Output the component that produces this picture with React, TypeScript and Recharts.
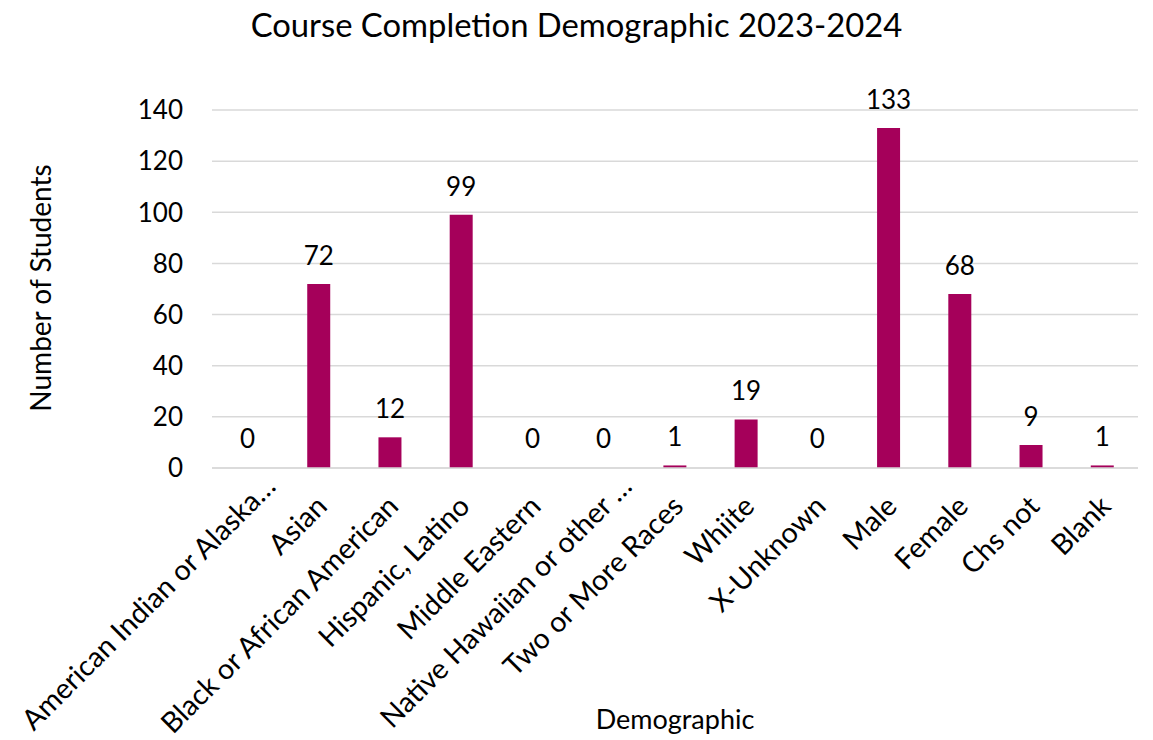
import React from 'react';
import { BarChart, Bar, XAxis, YAxis, CartesianGrid, LabelList, Label, Rectangle } from 'recharts';

const categories = [
  'American Indian or Alaska…',
  'Asian',
  'Black or African American',
  'Hispanic, Latino',
  'Middle Eastern',
  'Native Hawaiian or other …',
  'Two or More Races',
  'Whiite',
  'X-Unknown',
  'Male',
  'Female',
  'Chs not',
  'Blank',
];
const students = [0, 72, 12, 99, 0, 0, 1, 19, 0, 133, 68, 9, 1];
const yTicks = [0, 20, 40, 60, 80, 100, 120, 140];

const data = categories.map((c, i) => ({ name: c, value: students[i] }));

const FONT = 'Lato, "Open Sans", sans-serif';
const BAR = '#A5005A';

const CatTick = (props: any) => {
  const { x, y, payload } = props;
  const truncated = String(payload.value).endsWith('…');
  return (
    <g transform={`translate(${x + 10},${y + 40}) rotate(-45)`}>
      <text x={0} y={0} dx={truncated ? 28 : 0} textAnchor="end" fontSize={28.5} fontFamily={FONT} fill="#000">
        {payload.value}
      </text>
    </g>
  );
};

const BarShape = (props: any) => {
  const { value } = props;
  const v = Array.isArray(value) ? value[1] - value[0] : value;
  if (!v) return <g />;
  return <Rectangle {...props} />;
};

const ValueLabel = (props: any) => {
  const { x, y, width, value } = props;
  return (
    <text
      x={Number(x) + Number(width) / 2}
      y={Number(y) - 19}
      textAnchor="middle"
      fontSize={26}
      fontFamily={FONT}
      fill="#000"
    >
      {value}
    </text>
  );
};

export default function App() {
  return (
    <div style={{ position: 'absolute', left: 0, top: 0, width: 1153, height: 740, background: '#fff' }}>
      <div
        style={{
          position: 'absolute',
          left: 0,
          top: 5,
          width: 1153,
          textAlign: 'center',
          fontFamily: FONT,
          fontSize: 32.8,
          color: '#000',
        }}
      >
        Course Completion Demographic 2023-2024
      </div>
      <BarChart width={1153} height={740} data={data} margin={{ top: 110, right: 15, left: 0, bottom: 0 }}>
        <CartesianGrid vertical={false} stroke="#D9D9D9" strokeWidth={1.5} />
        <XAxis
          dataKey="name"
          interval={0}
          height={272}
          tickSize={0}
          tickMargin={0}
          axisLine={{ stroke: '#D9D9D9', strokeWidth: 1.5 }}
          tickLine={false}
          tick={<CatTick />}
        >
          <Label
            content={(p: any) => {
              const vb = p.viewBox;
              return (
                <text
                  x={vb.x + vb.width / 2}
                  y={vb.y + vb.height - 11}
                  textAnchor="middle"
                  fontSize={27}
                  fontFamily={FONT}
                  fill="#000"
                >
                  Demographic
                </text>
              );
            }}
          />
        </XAxis>
        <YAxis
          width={212}
          domain={[0, 140]}
          ticks={yTicks}
          axisLine={false}
          tickLine={false}
          tickSize={0}
          tickMargin={29}
          tick={{ fontSize: 26, fontFamily: FONT, fill: '#000' }}
        >
          <Label
            content={(p: any) => {
              const vb = p.viewBox;
              const cy = vb.y + vb.height / 2 - 1;
              return (
                <text
                  x={51}
                  y={cy}
                  transform={`rotate(-90, 51, ${cy})`}
                  textAnchor="middle"
                  fontSize={28}
                  fontFamily={FONT}
                  fill="#000"
                >
                  Number of Students
                </text>
              );
            }}
          />
        </YAxis>
        <Bar
          dataKey="value"
          fill={BAR}
          barSize={23}
          minPointSize={1}
          shape={<BarShape />}
          isAnimationActive={false}
        >
          <LabelList dataKey="value" content={<ValueLabel />} />
        </Bar>
      </BarChart>
    </div>
  );
}
